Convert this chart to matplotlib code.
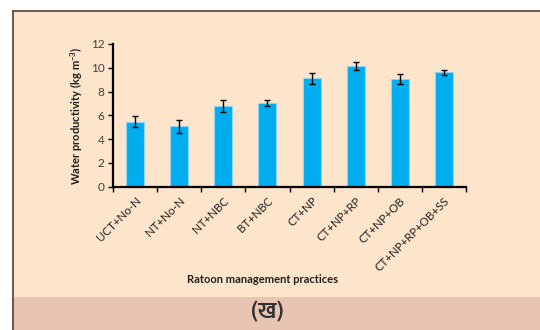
import matplotlib
matplotlib.use("Agg")
import matplotlib.pyplot as plt
from matplotlib import font_manager
from matplotlib.patches import Rectangle
from matplotlib.lines import Line2D
import numpy as np

# Data
practices = ["UCT+No-N", "NT+No-N", "NT+NBC", "BT+NBC", "CT+NP",
             "CT+NP+RP", "CT+NP+OB", "CT+NP+RP+OB+SS"]
water_productivity = [5.45, 5.1, 6.78, 7.03, 9.1, 10.14, 9.02, 9.61]
std_error = [0.46, 0.55, 0.5, 0.25, 0.48, 0.35, 0.42, 0.24]
y_ticks = [0, 2, 4, 6, 8, 10, 12]


def devanagari_family():
    """Return an installed font that has Devanagari glyphs, if any."""
    try:
        from fontTools.ttLib import TTFont
    except Exception:
        return None
    found = []
    for path in font_manager.findSystemFonts():
        try:
            f = TTFont(path, fontNumber=0, lazy=True)
            cmap = f.getBestCmap() or {}
            if 0x0916 in cmap:
                found.append(path)
        except Exception:
            continue
    if not found:
        return None
    # prefer a bold face when one exists
    bold = [p for p in found if "bold" in p.lower()]
    path = (bold or found)[0]
    return font_manager.FontProperties(fname=path)


plt.rcParams["font.family"] = ["Lato", "DejaVu Sans"]
plt.rcParams["mathtext.fontset"] = "custom"
plt.rcParams["mathtext.rm"] = "Lato"
plt.rcParams["mathtext.bf"] = "Lato:bold"

W, H = 540, 330
fig = plt.figure(figsize=(W / 100, H / 100), dpi=100)
fig.patch.set_facecolor("white")

# Panel background, lower caption band and border lines
fig.patches.append(Rectangle((12 / W, 33 / H), 1 - 12 / W, (297 - 10) / H,
                             transform=fig.transFigure, facecolor="#fde5cb",
                             edgecolor="none", zorder=-3))
fig.patches.append(Rectangle((12 / W, 0), 1 - 12 / W, 33 / H,
                             transform=fig.transFigure, facecolor="#e8c4b3",
                             edgecolor="none", zorder=-3))
border = "#5e4e46"
fig.lines.append(Line2D([12.5 / W, 1], [1 - 10.5 / H, 1 - 10.5 / H],
                        transform=fig.transFigure, color=border, lw=1.3))
fig.lines.append(Line2D([12.5 / W, 12.5 / W], [0, 1 - 10.5 / H],
                        transform=fig.transFigure, color=border, lw=1.3))

ax = fig.add_axes([113 / W, 1 - 186.7 / H, (466 - 113) / W, (186.7 - 44) / H])
ax.set_facecolor("none")

x = np.arange(len(practices))
ax.bar(x, water_productivity, width=0.41, color="#00aeef",
       edgecolor="#8fd3f3", linewidth=0.8, zorder=2)
ax.errorbar(x, water_productivity, yerr=std_error, fmt="none",
            ecolor="black", elinewidth=1.0, capsize=2.5, capthick=1.0, zorder=3)

ax.set_xlim(-0.5, len(practices) - 0.5)
ax.set_ylim(0, 12)
ax.set_yticks(y_ticks)
ax.set_yticklabels([str(v) for v in y_ticks], fontsize=8.5, color="#404040")

ax.set_xticks(np.arange(-0.5, len(practices), 1.0))
ax.set_xticklabels([])
ax.set_xticks(x, minor=True)
ax.set_xticklabels(practices, minor=True, rotation=45, ha="right", va="top",
                   rotation_mode="anchor", fontsize=8.3, color="#202020")
ax.tick_params(axis="x", which="minor", length=0, pad=6)
ax.tick_params(axis="x", which="major", length=3.5, width=1.0, direction="out")
ax.tick_params(axis="y", length=3.5, width=1.0, direction="out", pad=2.5)

for side in ("top", "right"):
    ax.spines[side].set_visible(False)
for side in ("left", "bottom"):
    ax.spines[side].set_linewidth(1.6)
    ax.spines[side].set_color("black")

ax.set_ylabel(r"Water productivity (kg m$^{\mathbf{-3}}$)", fontsize=8,
              fontweight="bold", color="#202020")
ax.yaxis.set_label_coords(-0.08, 0.5)

fig.text(263 / W, 1 - 279.5 / H, "Ratoon management practices", fontsize=8,
         fontweight="bold", color="#202020", ha="center", va="center")

dev = devanagari_family()
if dev is not None:
    fig.text(267 / W, 1 - 312 / H, "(ख)", fontproperties=dev, fontsize=17,
             color="#303030", ha="center", va="center")
else:
    fig.text(267 / W, 1 - 312 / H, "(ख)", fontsize=17, fontweight="bold",
             color="#303030", ha="center", va="center")

fig.savefig("out.png", dpi=100)
